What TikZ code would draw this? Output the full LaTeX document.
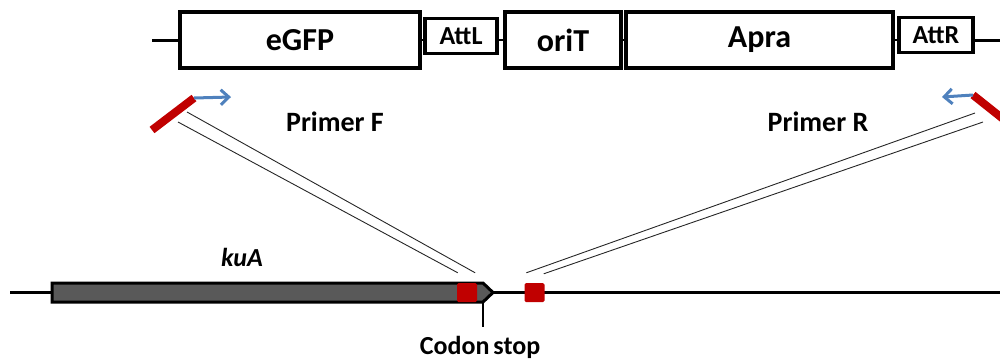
\documentclass[tikz,border=0pt]{standalone}
\usepackage{fontspec}
\setmainfont{Carlito}
\usepackage{xcolor}
\usepackage{tikz}
\usetikzlibrary{arrows.meta, positioning, calc}
\definecolor{primerred}{RGB}{192, 0, 0}
\definecolor{arrowblue}{RGB}{79, 129, 189}
\definecolor{genegray}{RGB}{89, 89, 89}

\begin{document}
\begin{tikzpicture}[x=1pt, y=-1pt,
    part/.style={draw, line width=3.2pt, inner sep=0pt, minimum height=56pt,
                font=\fontsize{32}{34}\selectfont\bfseries},
    att/.style={draw, line width=3.2pt, inner sep=0pt, minimum height=35pt,
                font=\fontsize{26}{28}\selectfont\bfseries},
    label/.style={font=\fontsize{28}{30}\selectfont\bfseries},
    site/.style={fill=primerred, rounded corners=1.5pt, minimum width=20pt,
                minimum height=19pt, inner sep=0pt},
    primer/.style={primerred, line width=8pt},
    dir/.style={arrowblue, line width=3pt, -{Straight Barb[length=8pt, width=15pt]}},
    arm/.style={line width=0.9pt, black!85}
]
    \useasboundingbox (0,0) rectangle (1000,360);
    \clip (0,0) rectangle (1000,360);

    % cassette
    \node[part, minimum width=240pt] (egfp) at (300,40) {eGFP};
    \node[att, minimum width=72pt] (attl) at (461,36) {AttL};
    \node[part, minimum width=116pt] (orit) at (563,40) {oriT};
    \node[part, minimum width=267pt] (apra) at (759.5,40) {Apra};
    \node[att, minimum width=74pt] (attr) at (936,35) {AttR};
    \coordinate (cl) at (152,40);
    \coordinate (cr) at (1000,40);
    \draw[line width=3pt] (cl) -- (egfp.west);
    \draw[line width=2.4pt] (egfp.east) -- (egfp.east -| attl.west);
    \draw[line width=2.4pt] (attl.east |- orit.west) -- (orit.west);
    \draw[line width=2.4pt] (orit.east) -- (apra.west);
    \draw[line width=2.4pt] (apra.east) -- (apra.east -| attr.west);
    \draw[line width=3pt] (attr.east |- cr) -- (cr);

    % primers
    \coordinate (fa) at (152,130);
    \coordinate (fb) at (194,98);
    \coordinate (fc) at (231,97);
    \coordinate (ra) at (973,95);
    \coordinate (rb) at (1012,126);
    \coordinate (rc) at (942,97);
    \draw[primer] (fa) -- (fb);
    \draw[dir] (fb) -- (fc);
    \draw[primer] (ra) -- (rb);
    \draw[dir] (ra) -- (rc);
    \node[label] (pf) at (335,122) {Primer F};
    \node[label] (pr) at (818,122) {Primer R};

    % locus
    \coordinate (ll) at (10,292.5);
    \coordinate (lr) at (1000,292.5);
    \draw[line width=2.4pt] (ll) -- (lr);
    \draw[line width=3pt, fill=genegray]
        (52,283) -- (483,283) -- (493,292.5) -- (483,302) -- (52,302) -- cycle;
    \node[site] (sa) at (467,292.5) {};
    \node[site] (sb) at (534.5,292.5) {};
    \node[font=\fontsize{26}{28}\selectfont\bfseries\itshape] (kua) at (242,257) {kuA};
    \node[font=\fontsize{26}{28}\selectfont\bfseries] (codon) at (480,347) {Codon\hspace{0.15em}stop};
    \coordinate (tip) at (483,302);
    \coordinate (tick) at (483,327);
    \draw[line width=1.2pt] (tip) -- (tick);

    % homology arms
    \coordinate (fu) at (187,112);
    \coordinate (fl) at (178,122);
    \coordinate (ru) at (975,113);
    \coordinate (rl) at (983,122);
    \draw[arm] (fl) -- ($(sa.north west)+(1,-10)$);
    \draw[arm] (fu) -- ($(sa.north east)+(-2,-10)$);
    \draw[arm] (ru) -- ($(sb.north west)+(2,-10)$);
    \draw[arm] (rl) -- ($(sb.north east)+(-1,-9)$);
\end{tikzpicture}
\end{document}
